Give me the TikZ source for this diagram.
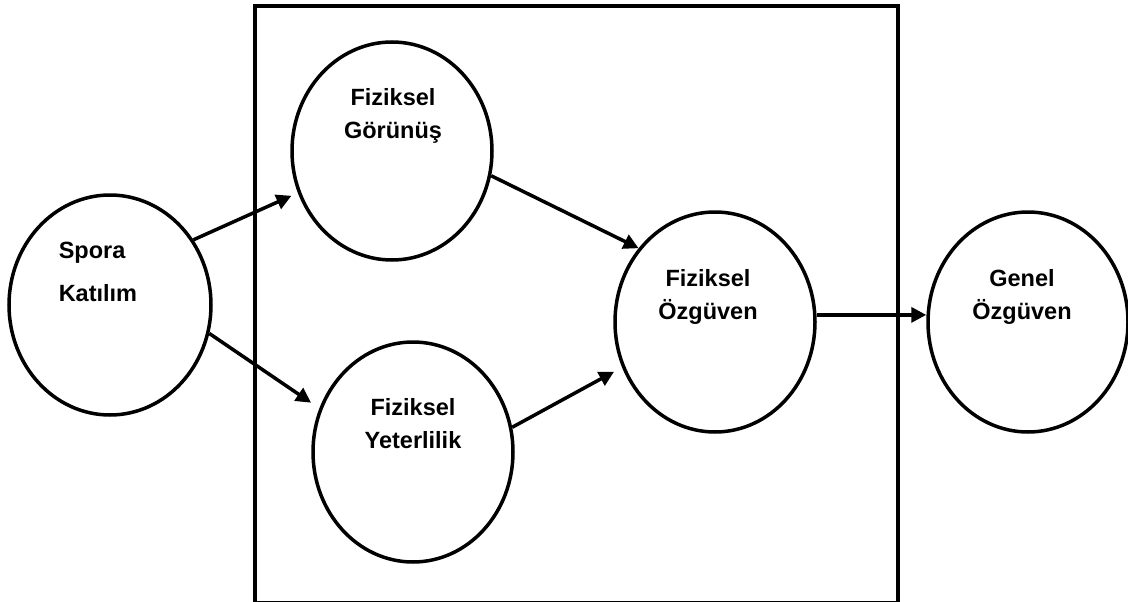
\documentclass[tikz,border=0pt]{standalone}
\usepackage{fontspec}
\setmainfont{Liberation Sans}
\usetikzlibrary{shapes.geometric,arrows.meta}

\tikzset{every picture/.style={line width=3.5pt}}
\tikzset{
  circ/.style={draw, ellipse, inner sep=0pt, minimum width=200pt, minimum height=220pt},
  lbl/.style={inner sep=0pt, font=\bfseries\fontsize{23.5}{33}\selectfont, align=center, anchor=north},
  arr/.style={-{Triangle[length=15pt,width=15pt]}, line width=3.5pt}
}

\begin{document}
\begin{tikzpicture}[x=1pt,y=1pt,yscale=-1,xscale=1]
\useasboundingbox (0,0) rectangle (1128,602);

%Shape: Rectangle (frame)
\draw [line width=4.5pt] (255,603) -- (255,6) -- (898,6) -- (898,603) -- cycle ;

%Shape: Ellipses
\node [circ, minimum width=202pt] (spora) at (110,305) {};
\node [circ, minimum height=218pt] (gorunus) at (392,151) {};
\node [circ] (yeterlilik) at (413,452) {};
\node [circ] (fozguven) at (715,322) {};
\node [circ] (genel) at (1028,322) {};

%Straight Lines
\draw [arr, shorten >=7pt] (spora.38) -- (gorunus.204) ;
\draw [arr, shorten >=10pt] (spora.-16) -- (yeterlilik.155) ;
\draw [arr] (gorunus.-14) -- (fozguven.136) ;
\draw [arr, shorten >=9pt] (yeterlilik.14) -- (fozguven.206) ;
\draw [arr] (fozguven.4) -- (fozguven.4 -| genel.west) ;

% Text Node
\node [lbl, anchor=north west, align=left, font=\bfseries\fontsize{23.5}{43}\selectfont] (spora-t) at (57,240) {Spora\\Katılım};
% Text Node
\node [lbl] (gorunus-t) at (393,87) {Fiziksel\\Görünüş};
% Text Node
\node [lbl] (yeterlilik-t) at (413,397) {Fiziksel\\Yeterlilik};
% Text Node
\node [lbl] (fozguven-t) at (708,268) {Fiziksel\\Özgüven};
% Text Node
\node [lbl] (genel-t) at (1022,268) {Genel\\Özgüven};

\end{tikzpicture}
\end{document}
